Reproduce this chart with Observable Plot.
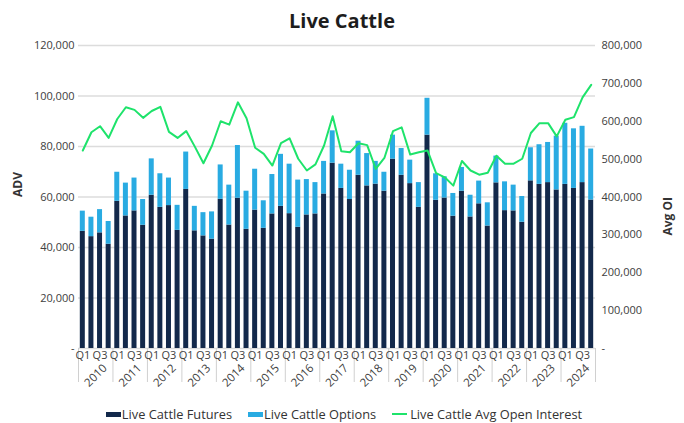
<!DOCTYPE html>
<html><head><meta charset="utf-8">
<script src="https://cdn.jsdelivr.net/npm/d3@7"></script>
<script src="https://cdn.jsdelivr.net/npm/@observablehq/plot@0.6"></script>
<style>
body{margin:0;background:#fff;font-family:"Open Sans","Noto Sans",sans-serif;overflow:hidden;}
#wrap{width:684px;}
#title{height:35px;line-height:41px;text-align:center;font-weight:700;font-size:20px;color:#1d1d1d;}
#legend{display:flex;justify-content:center;align-items:center;height:18px;line-height:18px;margin-top:2px;font-size:12.8px;color:#333;padding-left:4px;}
.item{display:flex;align-items:center;margin:0 8px;line-height:18px;}
.sw{display:inline-block;width:15px;height:5px;margin-right:1px;}
.ln{display:inline-block;width:15px;height:2px;margin-right:3px;}
svg{display:block;}
</style></head><body>
<div id="wrap">
<div id="title">Live Cattle</div>
<div id="chart"></div>
<div id="legend"></div>
</div>
<script>
const years = [2010,2011,2012,2013,2014,2015,2016,2017,2018,2019,2020,2021,2022,2023,2024];
const quarters = ["Q1","Q2","Q3","Q4"];
const futures = [46400,44300,45800,41300, 58300,52500,54500,48800, 60700,55900,56600,46800,
  63000,46600,44600,43300, 59100,48900,59500,47200, 54800,47600,53300,56300,
  53400,48000,52900,53300, 61200,73400,63400,59000, 68600,64400,65100,62300,
  75000,68600,65300,55900, 84500,58700,59600,52400, 62300,52100,57300,48500,
  65600,54600,54500,50000, 66400,65000,65700,62800, 65000,63400,65700,58800];
const options = [8000,7700,9200,9000, 11500,13000,13000,10200, 14400,13300,10900,9900,
  14800,9700,9200,10800, 13600,15800,20900,15100, 16200,10900,15600,20600,
  19600,18700,14000,12400, 12900,12800,9600,11600, 13500,12800,9000,7500,
  9500,10600,9300,9800, 14600,10500,8400,9000, 9400,8600,9000,9200,
  10600,11400,10200,10200, 13100,15700,15900,21300, 24200,23600,22300,20200];
const openInterest = [522700,571000,586900,556200, 606000,637000,630000,609000, 627000,638000,572000,556000,
  574000,533000,489000,536000, 600000,591000,650000,608000, 530000,514000,483000,542000,
  555000,501000,470000,486000, 536000,613000,521000,518000, 542000,537000,474000,503000,
  574000,584000,512000,518000, 523000,463000,452000,430000, 495000,470000,459000,464000,
  509000,488000,488000,501000, 569000,595000,595000,560000, 604000,611000,663000,696000];
const advTicks = [0,20000,40000,60000,80000,100000,120000];
const oiTicks = [0,100000,200000,300000,400000,500000,600000,700000,800000];
const labeledQuarters = ["Q1","Q3"];
const seriesNames = ["Live Cattle Futures","Live Cattle Options","Live Cattle Avg Open Interest"];
const colors = ["#13294b","#29abe2","#1ee36b"];

const ADV_MAX = 120000, OI_MAX = 800000, k = ADV_MAX / OI_MAX;
const rows = years.flatMap((yr, i) => quarters.map((q, j) => {
  const n = i * 4 + j;
  return {n, yr, q, fut: futures[n], opt: options[n], oi: openInterest[n]};
}));
const yearRows = years.map((yr, i) => ({yr, mid: i * 4 + 1.5}));
const bounds = d3.range(years.length + 1).map(i => i * 4 - 0.5);
const half = 0.29;
const fmt = d3.format(",");

const plot = Plot.plot({
  width: 684, height: 368,
  marginTop: 10, marginBottom: 55, marginLeft: 78, marginRight: 89,
  style: {fontFamily: "'Open Sans', sans-serif", fontSize: "11px", color: "#404040", background: "#fff"},
  x: {type: "linear", domain: [-0.5, rows.length - 0.5]},
  y: {domain: [0, ADV_MAX]},
  marks: [
    Plot.ruleY(advTicks, {stroke: "#dcdcdc", strokeWidth: 1.5}),
    Plot.rectY(rows, {x1: d => d.n - half, x2: d => d.n + half, y1: 0, y2: "fut", fill: colors[0]}),
    Plot.rectY(rows, {x1: d => d.n - half, x2: d => d.n + half, y1: "fut", y2: d => d.fut + d.opt, fill: colors[1]}),
    Plot.line(rows, {x: "n", y: d => d.oi * k, stroke: colors[2], strokeWidth: 2}),
    Plot.axisY({ticks: advTicks, tickSize: 0, tickPadding: 4, tickFormat: d => d === 0 ? "-" : fmt(d), label: null}),
    Plot.axisY({anchor: "right", ticks: oiTicks.map(v => v * k), tickSize: 0, tickPadding: 6,
      tickFormat: d => d === 0 ? "-" : fmt(Math.round(d / k)), label: null}),
    Plot.axisX({ticks: bounds, tickSize: 34, tickFormat: () => "", stroke: "#d0d0d0", label: null}),
    Plot.axisX({ticks: rows.filter(d => labeledQuarters.includes(d.q)).map(d => d.n), tickSize: 0, tickPadding: 3,
      tickFormat: d => rows[d].q, label: null}),
    Plot.text(yearRows, {x: "mid", y: 0, text: d => String(d.yr), rotate: -45, dy: 27, fontSize: 11.5}),
    Plot.text(["ADV"], {frameAnchor: "left", rotate: -90, dx: -60, fontWeight: 700, fontSize: 12, fill: "#333"}),
    Plot.text(["Avg OI"], {frameAnchor: "right", rotate: -90, dx: 73, fontWeight: 700, fontSize: 12, fill: "#333"})
  ]
});
document.getElementById("chart").appendChild(plot);

const legend = document.getElementById("legend");
seriesNames.forEach((name, i) => {
  const it = document.createElement("div");
  it.className = "item";
  const s = document.createElement("span");
  s.className = i < 2 ? "sw" : "ln";
  s.style.background = colors[i];
  it.appendChild(s);
  const t = document.createElement("span");
  t.textContent = name;
  it.appendChild(t);
  legend.appendChild(it);
});
</script>
</body></html>
